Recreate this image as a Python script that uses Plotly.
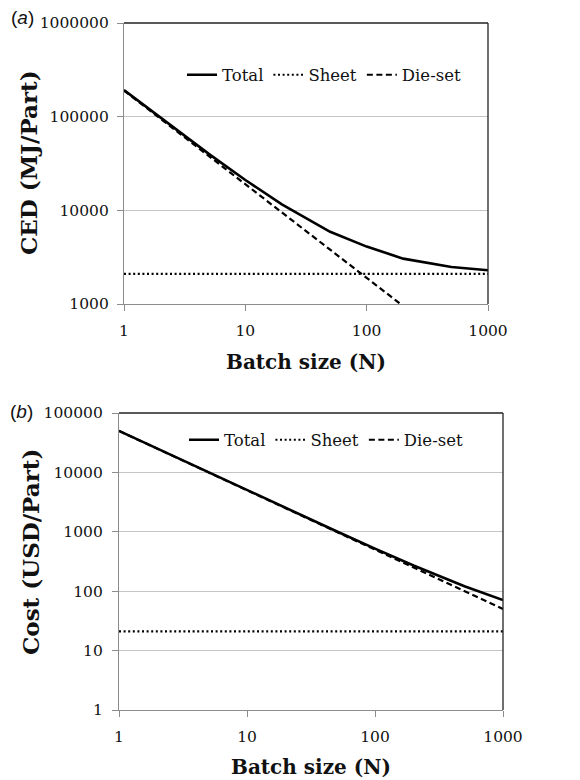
import plotly.graph_objects as go

# ---- data ----
batch_n = [1, 2, 5, 10, 20, 50, 100, 200, 500, 1000]

ced_total = [192100, 97100, 40100, 21100, 11600, 5900, 4100, 3050, 2480, 2290]
ced_sheet = [2100, 2100, 2100, 2100, 2100, 2100, 2100, 2100, 2100, 2100]
ced_dieset = [190000, 95000, 38000, 19000, 9500, 3800, 1900, 950, 380, 190]

cost_total = [50021, 25021, 10021, 5021, 2521, 1021, 521, 271, 121, 71]
cost_sheet = [21, 21, 21, 21, 21, 21, 21, 21, 21, 21]
cost_dieset = [50000, 25000, 10000, 5000, 2500, 1000, 500, 250, 100, 50]

x_ticks = [1, 10, 100, 1000]
x_ticktext = ["1", "10", "100", "1000"]
ced_ticks = [1000, 10000, 100000, 1000000]
ced_ticktext = ["1000", "10000", "100000", "1000000"]
cost_ticks = [1, 10, 100, 1000, 10000, 100000]
cost_ticktext = ["1", "10", "100", "1000", "10000", "100000"]

W, H = 580, 780
SERIF = "DejaVu Serif"
SANS = "Liberation Sans"

fig = go.Figure()

def add_series(xa, ya, total, sheet, die, leg):
    fig.add_trace(go.Scatter(x=batch_n, y=total, mode="lines", name="Total",
                             line=dict(color="black", width=2.6), xaxis=xa, yaxis=ya, legend=leg))
    fig.add_trace(go.Scatter(x=batch_n, y=sheet, mode="lines", name="Sheet",
                             line=dict(color="black", width=2.2, dash="2px,2.6px"), xaxis=xa, yaxis=ya, legend=leg))
    fig.add_trace(go.Scatter(x=batch_n, y=die, mode="lines", name="Die-set",
                             line=dict(color="black", width=2.2, dash="6px,3.5px"), xaxis=xa, yaxis=ya, legend=leg))

add_series("x", "y", ced_total, ced_sheet, ced_dieset, "legend")
add_series("x2", "y2", cost_total, cost_sheet, cost_dieset, "legend2")

# panel geometry in pixels
top = dict(x0=124, x1=488, y0=23, y1=304)
bot = dict(x0=119, x1=503, y0=413, y1=710)

def dom_x(p):
    return [p["x0"] / W, p["x1"] / W]

def dom_y(p):
    return [1 - p["y1"] / H, 1 - p["y0"] / H]

axis_common = dict(type="log", showline=True, linecolor="#8c8c8c", linewidth=1.3,
                   ticks="outside", ticklen=6, tickcolor="#8c8c8c", tickwidth=1.3,
                   tickfont=dict(family=SERIF, size=15.5, color="#111"), zeroline=False,
                   automargin=False)

fig.update_layout(
    width=W, height=H, margin=dict(l=0, r=0, t=0, b=0, autoexpand=False),
    font=dict(family=SERIF, color="#111"),
    paper_bgcolor="white", plot_bgcolor="white",
    xaxis=dict(domain=dom_x(top), anchor="y", range=[0, 3], tickvals=x_ticks, ticktext=x_ticktext,
               showgrid=False, ticklabelstandoff=6, **axis_common),
    yaxis=dict(domain=dom_y(top), anchor="x", range=[3, 6], tickvals=ced_ticks, ticktext=ced_ticktext,
               showgrid=True, gridcolor="#c4c4c4", gridwidth=1.2, ticklabelstandoff=5, **axis_common),
    xaxis2=dict(domain=dom_x(bot), anchor="y2", range=[0, 3], tickvals=x_ticks, ticktext=x_ticktext,
                showgrid=False, ticklabelstandoff=6, **axis_common),
    yaxis2=dict(domain=dom_y(bot), anchor="x2", range=[0, 5], tickvals=cost_ticks, ticktext=cost_ticktext,
                showgrid=True, gridcolor="#c4c4c4", gridwidth=1.2, ticklabelstandoff=6, **axis_common),
    legend=dict(orientation="h", x=182 / W, y=1 - 75 / H, xanchor="left", yanchor="middle",
                font=dict(family=SERIF, size=16.5, color="#111"), bgcolor="rgba(0,0,0,0)",
                traceorder="normal", itemwidth=30),
    legend2=dict(orientation="h", x=184 / W, y=1 - 440 / H, xanchor="left", yanchor="middle",
                 font=dict(family=SERIF, size=16.5, color="#111"), bgcolor="rgba(0,0,0,0)",
                 traceorder="normal", itemwidth=30),
    showlegend=True,
)

# black plot-area border on top and right
shapes = []
for p in (top, bot):
    shapes.append(dict(type="line", xref="paper", yref="paper", x0=p["x0"] / W, x1=p["x1"] / W,
                       y0=1 - p["y0"] / H, y1=1 - p["y0"] / H, line=dict(color="#222", width=1.3)))
    shapes.append(dict(type="line", xref="paper", yref="paper", x0=p["x1"] / W, x1=p["x1"] / W,
                       y0=1 - p["y0"] / H, y1=1 - p["y1"] / H, line=dict(color="#222", width=1.3)))
fig.update_layout(shapes=shapes)

def ann(text, xpx, ypx, size, family, angle=0, bold=False):
    fig.add_annotation(text=f"<b>{text}</b>" if bold else text, x=xpx / W, y=1 - ypx / H,
                       xref="paper", yref="paper", showarrow=False, textangle=angle,
                       font=dict(family=family, size=size, color="#111"),
                       xanchor="center", yanchor="middle")

ann("Batch size (N)", 306, 362, 20, SERIF, bold=True)
ann("Batch size (N)", 311, 767, 20, SERIF, bold=True)
ann("CED (MJ/Part)", 28, 163, 23, SERIF, angle=-90, bold=True)
ann("Cost (USD/Part)", 30, 552, 23, SERIF, angle=-90, bold=True)
ann("(<i>a</i>)", 22, 17, 19, SANS)
ann("(<i>b</i>)", 21, 411, 19, SANS)

fig.write_html("out.html", config={"displayModeBar": False},
               post_script="document.body.style.margin='0';document.body.style.padding='0';")
